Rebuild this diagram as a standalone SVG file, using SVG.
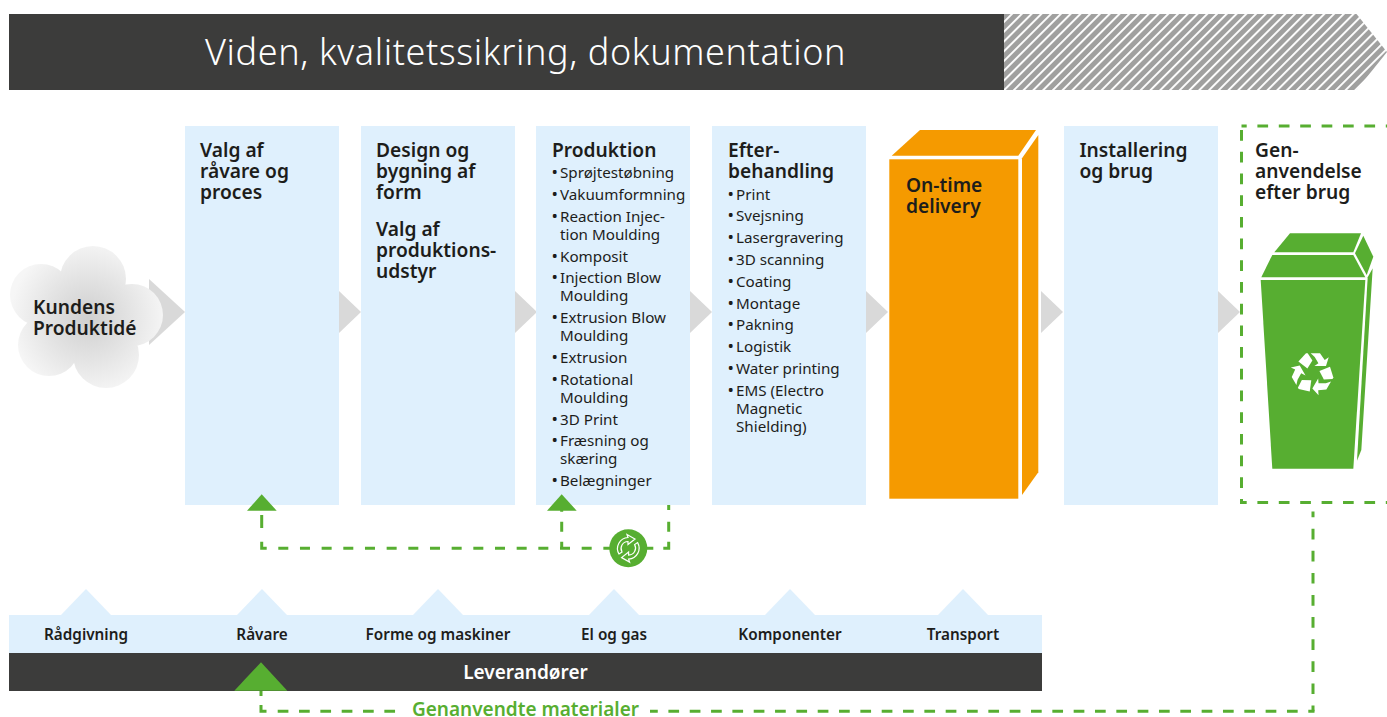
<svg xmlns="http://www.w3.org/2000/svg" width="1387" height="717" viewBox="0 0 1387 717">
<style>
text{font-family:"Noto Sans","Lato",sans-serif;fill:#1d1d1b}
.h{font-size:19.2px;font-weight:600}
.l{font-size:15.200px}
.b{font-size:17px}
.s{font-size:15.300px;font-weight:600;text-anchor:middle}
.p{fill:#dff0fd}
.g{fill:#57ae31}
.o{fill:#f59a00}
.a{fill:#d9d9d9}
.d{fill:none;stroke:#57ae31;stroke-width:3}
.w{fill:#fff}
</style>
<defs>
<pattern id="hatch" width="6.9" height="6.9" patternUnits="userSpaceOnUse" patternTransform="rotate(-45)"><rect width="6.9" height="6.9" fill="#a0a09f"/><rect width="6.9" height="1.9" fill="#fff"/></pattern>
<radialGradient id="cg" gradientUnits="userSpaceOnUse" cx="88" cy="318" r="78"><stop offset="0" stop-color="#cfcfcf"/><stop offset="0.55" stop-color="#e4e4e4"/><stop offset="1" stop-color="#f6f6f6"/></radialGradient>
<g id="rb"><polygon points="-2,-20 7.300,-20 12,-13.300 16,-16 13.300,-7.300 1.700,-7.300 5.700,-10 2,-16.300"/><polygon points="-14.300,-11.700 -6.700,-20 -5,-20 -0.300,-12.700 -5.300,-4.700"/></g>
</defs>

<g id="banner">
<rect x="9" y="14" width="995" height="76" fill="#3c3c3b"/>
<polygon points="1004,14 1356.500,14 1387,52 1356.500,90 1004,90" fill="url(#hatch)"/>
<text x="205" y="65" font-size="36" letter-spacing="0.6" style="fill:#fff;font-weight:300">Viden, kvalitetssikring, dokumentation</text>
</g>

<g id="arrows">
<polygon class="a" points="149,279 185,312 149,345"/>
<polygon class="a" points="339,291 361,312 339,333"/>
<polygon class="a" points="515,291 537,312 515,333"/>
<polygon class="a" points="690,291 712,312 690,333"/>
<polygon class="a" points="866,291 888,312 866,333"/>
<polygon class="a" points="1041,291 1063,312 1041,333"/>
<polygon class="a" points="1218,291 1240,312 1218,333"/>
</g>

<g id="idea">
<g fill="url(#cg)">
<circle cx="93" cy="279" r="33"/><circle cx="41" cy="295" r="31"/><circle cx="132" cy="315" r="31"/><circle cx="49" cy="345" r="31"/><circle cx="106" cy="355" r="33"/><circle cx="88" cy="318" r="45"/>
</g>
<text class="h"><tspan x="33" y="314">Kundens</tspan><tspan x="33" y="335">Produktidé</tspan></text>
</g>

<g id="valg">
<rect class="p" x="185" y="126" width="154" height="379"/>
<text class="h"><tspan x="200" y="157">Valg af</tspan><tspan x="200" y="178">råvare og</tspan><tspan x="200" y="199">proces</tspan></text>
</g>

<g id="design">
<rect class="p" x="361" y="126" width="154" height="379"/>
<text class="h"><tspan x="376" y="157">Design og</tspan><tspan x="376" y="178">bygning af</tspan><tspan x="376" y="199">form</tspan><tspan x="376" y="236">Valg af</tspan><tspan x="376" y="257">produktions-</tspan><tspan x="376" y="278">udstyr</tspan></text>
</g>

<g id="produktion">
<rect class="p" x="536" y="126" width="154" height="379"/>
<text class="h" x="552" y="157">Produktion</text>
<text class="l"><tspan class="b" x="551.500" y="178">•</tspan><tspan x="560">Sprøjtestøbning</tspan><tspan class="b" x="551.500" y="200">•</tspan><tspan x="560">Vakuumformning</tspan><tspan class="b" x="551.500" y="222">•</tspan><tspan x="560">Reaction Injec-</tspan><tspan x="560" y="240">tion Moulding</tspan><tspan class="b" x="551.500" y="262">•</tspan><tspan x="560">Komposit</tspan><tspan class="b" x="551.500" y="283">•</tspan><tspan x="560">Injection Blow</tspan><tspan x="560" y="301">Moulding</tspan><tspan class="b" x="551.500" y="323">•</tspan><tspan x="560">Extrusion Blow</tspan><tspan x="560" y="341">Moulding</tspan><tspan class="b" x="551.500" y="363">•</tspan><tspan x="560">Extrusion</tspan><tspan class="b" x="551.500" y="385">•</tspan><tspan x="560">Rotational</tspan><tspan x="560" y="403">Moulding</tspan><tspan class="b" x="551.500" y="425">•</tspan><tspan x="560">3D Print</tspan><tspan class="b" x="551.500" y="446">•</tspan><tspan x="560">Fræsning og</tspan><tspan x="560" y="464">skæring</tspan><tspan class="b" x="551.500" y="486">•</tspan><tspan x="560">Belægninger</tspan></text>
</g>

<g id="efterbehandling">
<rect class="p" x="712" y="126" width="154" height="379"/>
<text class="h"><tspan x="728" y="157">Efter-</tspan><tspan x="728" y="178">behandling</tspan></text>
<text class="l"><tspan class="b" x="727.500" y="200">•</tspan><tspan x="736">Print</tspan><tspan class="b" x="727.500" y="221">•</tspan><tspan x="736">Svejsning</tspan><tspan class="b" x="727.500" y="243">•</tspan><tspan x="736">Lasergravering</tspan><tspan class="b" x="727.500" y="265">•</tspan><tspan x="736">3D scanning</tspan><tspan class="b" x="727.500" y="287">•</tspan><tspan x="736">Coating</tspan><tspan class="b" x="727.500" y="309">•</tspan><tspan x="736">Montage</tspan><tspan class="b" x="727.500" y="330">•</tspan><tspan x="736">Pakning</tspan><tspan class="b" x="727.500" y="352">•</tspan><tspan x="736">Logistik</tspan><tspan class="b" x="727.500" y="374">•</tspan><tspan x="736">Water printing</tspan><tspan class="b" x="727.500" y="396">•</tspan><tspan x="736">EMS (Electro</tspan><tspan x="736" y="414">Magnetic</tspan><tspan x="736" y="432">Shielding)</tspan></text>
</g>

<g id="delivery">
<polygon class="o" points="920,130 1036,130 1018.300,155.700 891.700,155.700"/>
<polygon class="o" points="1038.300,135 1038.300,472.300 1022,495 1022,158.300"/>
<rect class="o" x="889.300" y="159.300" width="129" height="339.400"/>
<text class="h"><tspan x="906" y="192">On-time</tspan><tspan x="906" y="213">delivery</tspan></text>
</g>

<g id="installering">
<rect class="p" x="1064" y="126" width="154" height="379"/>
<text class="h"><tspan x="1079.500" y="157">Installering</tspan><tspan x="1079.500" y="178">og brug</tspan></text>
</g>

<g id="genanvendelse">
<path class="d" d="M1241.500 502.500H1387" stroke-dasharray="10.700 10.700" stroke-dashoffset="5.500"/>
<path class="d" d="M1241.500 504V126" stroke-dasharray="10.700 11" stroke-dashoffset="5.700"/>
<path class="d" d="M1241.500 126H1387" stroke-dasharray="10.700 10.700" stroke-dashoffset="5.500"/>
<text class="h"><tspan x="1255" y="157">Gen-</tspan><tspan x="1255" y="178">anvendelse</tspan><tspan x="1255" y="199">efter brug</tspan></text>
<polygon class="g" points="1290,233.300 1361,233.300 1353.300,252.300 1274.300,252.300"/>
<polygon class="g" points="1272.300,255 1353.300,255 1365.300,277.300 1261.300,277.300"/>
<polygon class="g" points="1363.300,235.700 1373.300,256.700 1366.700,275 1355,253.300"/>
<polygon class="g" points="1260.700,280 1365.300,280 1353.300,468.700 1272.300,468.700"/>
<polygon class="g" points="1372.700,268.300 1361.300,450 1357,460.700 1367.700,277.300"/>
<g transform="translate(1312.700 373.300)" class="w"><use href="#rb"/><use href="#rb" transform="rotate(120)"/><use href="#rb" transform="rotate(240)"/></g>
</g>

<g id="leverandorer">
<rect class="p" x="9" y="615" width="1033" height="38"/>
<polygon class="p" points="61,615 86,589 111,615"/>
<polygon class="p" points="237,615 262,589 287,615"/>
<polygon class="p" points="413,615 438,589 463,615"/>
<polygon class="p" points="589,615 614,589 639,615"/>
<polygon class="p" points="765,615 790,589 815,615"/>
<polygon class="p" points="938,615 963,589 988,615"/>
<text class="s" x="86" y="640">Rådgivning</text>
<text class="s" x="262" y="640">Råvare</text>
<text class="s" x="438" y="640">Forme og maskiner</text>
<text class="s" x="614" y="640">El og gas</text>
<text class="s" x="790" y="640">Komponenter</text>
<text class="s" x="963" y="640">Transport</text>
<rect x="9" y="653" width="1033" height="38" fill="#3c3c3b"/>
<text x="525.500" y="679" font-size="19" text-anchor="middle" style="fill:#fff;font-weight:600">Leverandører</text>
</g>

<g id="connectors">
<path class="d" d="M1313 711.300V511.500" stroke-dasharray="10.700 11.400" stroke-dashoffset="4.900"/>
<path class="d" d="M1314.500 711.300H650" stroke-dasharray="10.700 10.630" stroke-dashoffset="4.500"/>
<path class="d" d="M277.700 711.300H396" stroke-dasharray="10.700 10.630"/>
<path class="d" d="M261 691V696M261 705V711.300H266.500"/>
<path class="d" d="M261.700 515V528M261.700 541.700V548.300H266.700"/>
<path class="d" d="M278.300 548.300H610" stroke-dasharray="10 11.670"/>
<path class="d" d="M561.700 510V511.700M561.700 521.700V531.700M561.700 541.700V548.300"/>
<path class="d" d="M668.700 505V510M668.700 521.700V531.700M668.700 541.700V548.300H663.300M653.300 548.300H647"/>
<polygon class="g" points="247,510.700 276.700,510.700 261.700,494.300"/>
<polygon class="g" points="547,510.700 576.700,510.700 561.700,494.300"/>
<polygon class="g" points="234.300,690.700 287.300,690.700 261,662.300"/>
</g>

<g id="loop">
<circle class="g" cx="628.300" cy="548.300" r="19"/>
<g fill="none" stroke="#fff" stroke-width="1.200"><path d="M619 554A11 11 0 0 1 628 537.500L627 534.500 635 539 628 544.500 628 541.500A7 7 0 0 0 622 552Z"/><path d="M637.600 542.600A11 11 0 0 1 628.600 559.100L629.600 562.100 621.600 557.600 628.600 552.100 628.600 555.100A7 7 0 0 0 634.600 544.600Z"/></g>
</g>

<text x="525.500" y="716" font-size="19" text-anchor="middle" style="fill:#57ae31;font-weight:600">Genanvendte materialer</text>
</svg>
